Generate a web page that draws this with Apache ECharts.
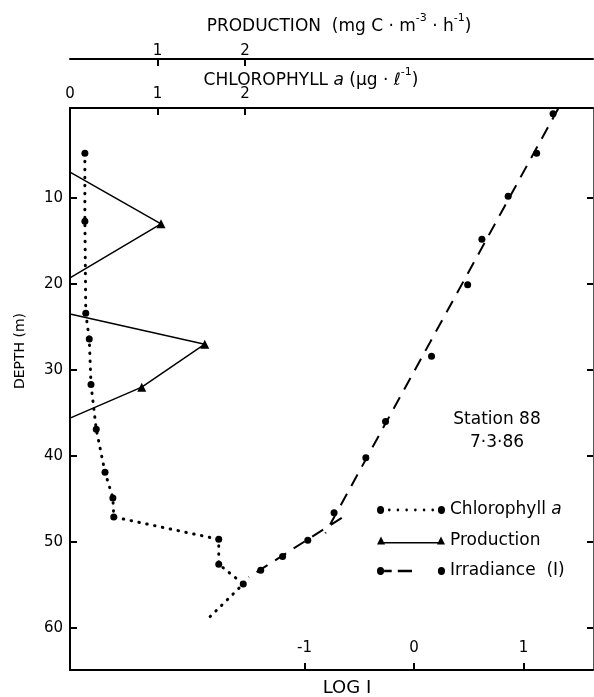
<!DOCTYPE html>
<html><head><meta charset="utf-8">
<script src="https://cdn.jsdelivr.net/npm/echarts@6/dist/echarts.min.js"></script>
<style>html,body{margin:0;padding:0;background:#fff}#c{width:594px;height:697px}</style>
</head><body><div id="c"></div>
<script>
// ---- data ----
const chlDepth  = [4.8, 12.7, 23.4, 26.4, 31.7, 36.9, 41.9, 44.9, 47.1, 49.7, 52.6, 54.9, 59.0];
const chlValue  = [0.17, 0.17, 0.18, 0.22, 0.24, 0.30, 0.40, 0.49, 0.50, 1.70, 1.70, 1.98, 1.57];
const chlMarked = [1, 1, 1, 1, 1, 1, 1, 1, 1, 1, 1, 1, 0];

const prodDepth  = [7.0, 13.0, 19.3, null, 23.5, 27.0, 32.0, 35.6];
const prodValue  = [0, 1.04, 0, null, 0, 1.54, 0.82, 0];
const prodMarked = [0, 1, 0, 0, 0, 1, 1, 0];

const irrDepth = [0.2, 4.8, 9.8, 14.8, 20.1, 28.4, 36.0, 40.2, 46.6, 49.8, 51.7, 53.3];
const irrLogI  = [1.27, 1.12, 0.86, 0.62, 0.49, 0.16, -0.26, -0.44, -0.73, -0.97, -1.20, -1.40];

// two fitted straight lines through the irradiance profile
const irrFitDepth = [-0.47, 49.0, null, 47.2, 54.1];
const irrFitLogI  = [1.32, -0.81, null, -0.66, -1.51];

const depthTicks = [10, 20, 30, 40, 50, 60];
const chlTicks   = [0, 1, 2];
const prodTicks  = [1, 2];
const logTicks   = [-1, 0, 1];

// ---- chart ----
const FONT = 'DejaVu Sans';
const chart = echarts.init(document.getElementById('c'), null, {renderer: 'canvas'});

function pairs(xs, ys, marks, sym) {
  return xs.map((x, i) => {
    if (x === null || ys[i] === null) return {value: ['-', '-'], symbol: 'none'};
    return {value: [x, ys[i]], symbol: (marks && !marks[i]) ? 'none' : sym};
  });
}
function circ(cx, cy, r) {
  return 'M' + (cx - r) + ' ' + cy + ' A' + r + ' ' + r + ' 0 1 0 ' + (cx + r) + ' ' + cy +
         ' A' + r + ' ' + r + ' 0 1 0 ' + (cx - r) + ' ' + cy + ' Z ';
}
function rect(x0, y0, x1, y1) {
  return 'M' + x0 + ' ' + y0 + ' L' + x1 + ' ' + y0 + ' L' + x1 + ' ' + y1 + ' L' + x0 + ' ' + y1 + ' Z ';
}
let iconChl = circ(4, 4, 3.5) + circ(64, 4, 3.5);
[12.6, 21.1, 29.7, 38.3, 46.9, 55.4].forEach(x => { iconChl += circ(x, 4, 1.3); });
const iconProd = 'M0 8 L4 1 L8 8 Z M60 8 L64 1 L68 8 Z ' + rect(7, 5.9, 61, 7.2);
const iconIrr = circ(4, 4, 3.5) + rect(7.5, 3, 15, 5) + rect(21, 3, 35, 5) + circ(64, 4, 3.5);

const axLine = {show: true, onZero: false, lineStyle: {color: '#000', width: 2}};
const lbl = {color: '#000', fontFamily: FONT, fontSize: 15};
// ticks drawn towards the plot interior
const tick = (vals, len) => ({show: true, inside: true, length: len, customValues: vals, lineStyle: {color: '#000', width: 2}});

const option = {
  animation: false,
  backgroundColor: '#fff',
  grid: {left: 70, right: 1, top: 108, bottom: 27, containLabel: false, outerBoundsMode: 'none'},
  xAxis: [
    { // chlorophyll
      type: 'value', position: 'top', min: 0, max: 5.977,
      axisLine: axLine, axisTick: tick([1, 2], 7),
      axisLabel: Object.assign({customValues: chlTicks, margin: 6}, lbl),
      splitLine: {show: false}
    },
    { // production
      type: 'value', position: 'top', offset: 49, min: 0, max: 5.977,
      axisLine: axLine, axisTick: tick(prodTicks, 7),
      axisLabel: Object.assign({customValues: prodTicks, margin: 0}, lbl),
      splitLine: {show: false}
    },
    { // log I
      type: 'value', position: 'bottom', min: -3.1416, max: 1.6347,
      axisLine: axLine, axisTick: tick(logTicks, 7),
      axisLabel: Object.assign({customValues: logTicks, inside: true, margin: 14}, lbl),
      splitLine: {show: false}
    }
  ],
  yAxis: [
    {
      type: 'value', inverse: true, position: 'left', min: -0.47, max: 64.9,
      axisLine: axLine, axisTick: tick(depthTicks, 7),
      axisLabel: Object.assign({customValues: depthTicks, margin: 7}, lbl),
      splitLine: {show: false}
    },
    {
      type: 'value', inverse: true, position: 'right', min: -0.47, max: 64.9,
      axisLine: {show: true, onZero: false, lineStyle: {color: '#555', width: 1}},
      axisTick: tick(depthTicks, 6),
      axisLabel: {show: false},
      splitLine: {show: false}
    }
  ],
  legend: {
    orient: 'vertical', left: 372, top: 495,
    itemWidth: 68, itemHeight: 8, itemGap: 10.5,
    symbolKeepAspect: false,
    itemStyle: {color: '#000', borderWidth: 0},
    textStyle: {color: '#000', fontFamily: FONT, fontSize: 17, lineHeight: 20,
      rich: {n: {fontFamily: FONT, fontSize: 17, color: '#000'},
             i: {fontFamily: FONT, fontSize: 17, fontStyle: 'italic', color: '#000'}}},
    formatter: name => name === 'Chlorophyll a' ? '{n|Chlorophyll }{i|a}' : '{n|' + name + '}',
    data: [
      {name: 'Chlorophyll a', icon: 'path://' + iconChl},
      {name: 'Production', icon: 'path://' + iconProd},
      {name: 'Irradiance  (I)', icon: 'path://' + iconIrr}
    ]
  },
  graphic: [
    {type: 'text', x: 339, y: 24, silent: true,
      style: {text: '{t|PRODUCTION  (mg C · m}{s|-3}{t| · h}{s|-1}{t|)}', align: 'center', verticalAlign: 'middle',
        rich: {t: {fontFamily: FONT, fontSize: 17, fill: '#000', lineHeight: 22, verticalAlign: 'bottom'},
               s: {fontFamily: FONT, fontSize: 11, fill: '#000', lineHeight: 22, verticalAlign: 'top'}}}},
    {type: 'text', x: 311, y: 78, silent: true,
      style: {text: '{t|CHLOROPHYLL }{i|a}{t| (μg · ℓ}{s|-1}{t|)}', align: 'center', verticalAlign: 'middle',
        rich: {t: {fontFamily: FONT, fontSize: 17, fill: '#000', lineHeight: 22, verticalAlign: 'bottom'},
               i: {fontFamily: FONT, fontSize: 17, fontStyle: 'italic', fill: '#000', lineHeight: 22, verticalAlign: 'bottom'},
               s: {fontFamily: FONT, fontSize: 11, fill: '#000', lineHeight: 22, verticalAlign: 'top'}}}},
    {type: 'text', x: 20, y: 351, rotation: Math.PI / 2, silent: true,
      style: {text: 'DEPTH (m)', font: '14px "DejaVu Sans"', fill: '#000', align: 'center', verticalAlign: 'middle'}},
    {type: 'text', x: 347, y: 688, silent: true,
      style: {text: 'LOG I', font: '18px "DejaVu Sans"', fill: '#000', align: 'center', verticalAlign: 'middle'}},
    {type: 'text', x: 497, y: 420, silent: true,
      style: {text: 'Station 88', font: '17px "DejaVu Sans"', fill: '#000', align: 'center', verticalAlign: 'middle'}},
    {type: 'text', x: 497, y: 443, silent: true,
      style: {text: '7·3·86', font: '17px "DejaVu Sans"', fill: '#000', align: 'center', verticalAlign: 'middle'}}
  ],
  series: [
    {
      name: 'Chlorophyll a', type: 'line', xAxisIndex: 0, yAxisIndex: 0,
      data: pairs(chlValue, chlDepth, chlMarked, 'circle'),
      symbolSize: 7, color: '#000',
      itemStyle: {color: '#000', borderWidth: 0},
      lineStyle: {color: '#000', width: 3, type: [0.5, 7.5], cap: 'round'},
      connectNulls: false
    },
    {
      name: 'Production', type: 'line', xAxisIndex: 1, yAxisIndex: 0,
      data: pairs(prodValue, prodDepth, prodMarked, 'triangle'),
      symbolSize: 9, color: '#000',
      itemStyle: {color: '#000', borderWidth: 0},
      lineStyle: {color: '#000', width: 1.5},
      connectNulls: false
    },
    {
      name: 'Irradiance  (I)', type: 'line', xAxisIndex: 2, yAxisIndex: 0,
      data: pairs(irrFitLogI, irrFitDepth, null, 'none'),
      symbol: 'none', color: '#000',
      itemStyle: {color: '#000', borderWidth: 0},
      lineStyle: {color: '#000', width: 2, type: [13, 9]},
      connectNulls: false
    },
    {
      name: 'Irradiance  (I)', type: 'scatter', xAxisIndex: 2, yAxisIndex: 0,
      data: irrLogI.map((x, i) => [x, irrDepth[i]]),
      symbol: 'circle', symbolSize: 7, color: '#000',
      itemStyle: {color: '#000', borderWidth: 0, opacity: 1}
    }
  ]
};
chart.setOption(option);
</script>
</body></html>
